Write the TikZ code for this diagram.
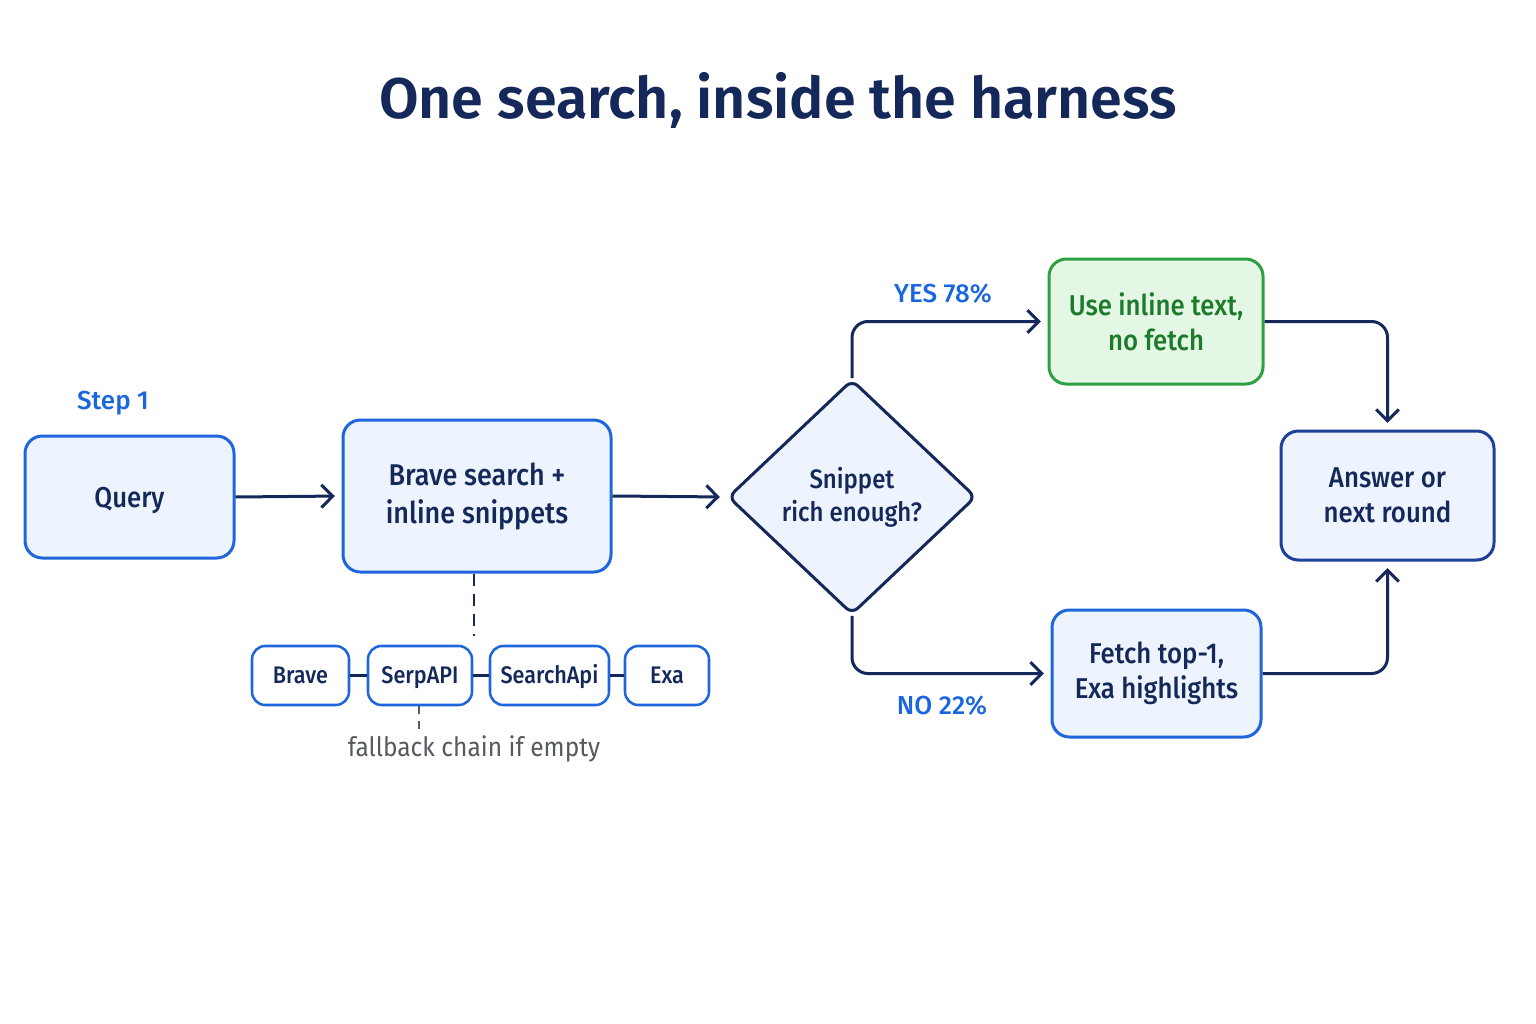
\documentclass[tikz,border=0pt]{standalone}
\usepackage{fontspec}
\setmainfont{Fira Sans}[BoldFont={Fira Sans SemiBold}]
\newfontfamily\medfont{Fira Sans Medium}[FakeStretch=0.9]
\newfontfamily\labfont{Fira Sans Medium}
\newfontfamily\notefont{Fira Sans}[FakeStretch=0.92]
\usetikzlibrary{arrows.meta,shapes.geometric}
\definecolor{navy}{HTML}{14285A}
\definecolor{bblue}{HTML}{1F66DD}
\definecolor{bfill}{HTML}{EEF4FD}
\definecolor{gline}{HTML}{2EA043}
\definecolor{gfill}{HTML}{E4F6E4}
\definecolor{gtext}{HTML}{1B7B2B}
\definecolor{ansline}{HTML}{1E3F9A}
\definecolor{lbl}{HTML}{1A66E0}
\definecolor{greytext}{HTML}{555A60}
\tikzset{
  box/.style={draw=bblue, fill=bfill, line width=2.25pt, rounded corners=13pt,
    align=center, text=navy, font=\medfont\fontsize{21.5}{26.5}\selectfont, inner sep=0pt},
  greenbox/.style={box, draw=gline, fill=gfill, text=gtext},
  ansbox/.style={box, draw=ansline},
  chip/.style={draw=bblue, fill=white, line width=1.9pt, rounded corners=10pt,
    text=navy, font=\medfont\fontsize{18}{21}\selectfont, inner sep=0pt,
    minimum height=44.25pt, text height=12.4pt, text depth=0pt},
  decision/.style={diamond, draw=navy, fill=bfill, line width=2.25pt, rounded corners=6pt,
    align=center, text=navy, font=\medfont\fontsize{20}{25}\selectfont, inner sep=0pt,
    minimum width=186pt, minimum height=176pt},
  arr/.style={draw=navy, line width=2.25pt, -{Straight Barb[length=8.5pt,width=17pt,line width=2.25pt]},
    shorten >=5pt, rounded corners=12pt},
  link/.style={draw=navy, line width=2.25pt},
  lab/.style={text=lbl, font=\labfont\fontsize{19.5}{24}\selectfont},
}
\begin{document}
\begin{tikzpicture}[x=0.75pt,y=-0.75pt]
\useasboundingbox[fill=white] (0,0) rectangle (1536,1024);

\node[text=navy, font=\bfseries\fontsize{43}{50}\selectfont] (title) at (778,100) {One search, inside the harness};

\node[lab] (step) at (113,403) {Step 1};

\node[box, minimum width=156.75pt, minimum height=91.5pt, text height=15pt, text depth=0pt] (query) at (129.5,497) {Query};
\node[box, minimum width=201pt, minimum height=114pt, font=\medfont\fontsize{22.5}{28.5}\selectfont] (brave) at (477,496) {Brave search +\\inline snippets};
\node[decision] (dia) at (852,497) {Snippet\\rich enough?};
\node[greenbox, minimum width=160.5pt, minimum height=93.75pt] (use) at (1156,321.5) {Use inline text,\\no fetch};
\node[box, minimum width=156.75pt, minimum height=95.25pt] (fetch) at (1156.5,673.5) {Fetch top-1,\\Exa highlights};
\node[ansbox, minimum width=159.75pt, minimum height=96.75pt] (ans) at (1387.5,495.5) {Answer or\\next round};

\node[chip, minimum width=72.75pt] (c1) at (300.5,675.5) {Brave};
\node[chip, minimum width=78pt] (c2) at (420,675.5) {SerpAPI};
\node[chip, minimum width=89.25pt] (c3) at (549.5,675.5) {SearchApi};
\node[chip, minimum width=63pt] (c4) at (667,675.5) {Exa};

\node[text=greytext, font=\notefont\fontsize{20}{24}\selectfont] (fb) at (474,749) {fallback chain if empty};
\node[lab] (yes) at (943,294) {YES 78\%};
\node[lab] (no) at (942,706) {NO 22\%};

\coordinate (dend) at (474,636);
\coordinate (fend) at (419,733);

\draw[arr] (query.east) -- (brave.west);
\draw[arr] (brave.east) -- (dia.west);
\draw[arr] (dia.north) |- (use.west);
\draw[arr] (dia.south) |- (fetch.west);
\draw[arr] (use.east) -| (ans.north);
\draw[arr] (fetch.east) -| (ans.south);

\draw[navy, line width=2pt, dash pattern=on 9pt off 6pt] (brave.south -| dend) -- (dend);
\draw[greytext, line width=1.2pt, dash pattern=on 6pt off 5pt] (c2.south -| fend) -- (fend);

\draw[link] (c1.east) -- (c2.west);
\draw[link] (c2.east) -- (c3.west);
\draw[link] (c3.east) -- (c4.west);
\end{tikzpicture}
\end{document}
